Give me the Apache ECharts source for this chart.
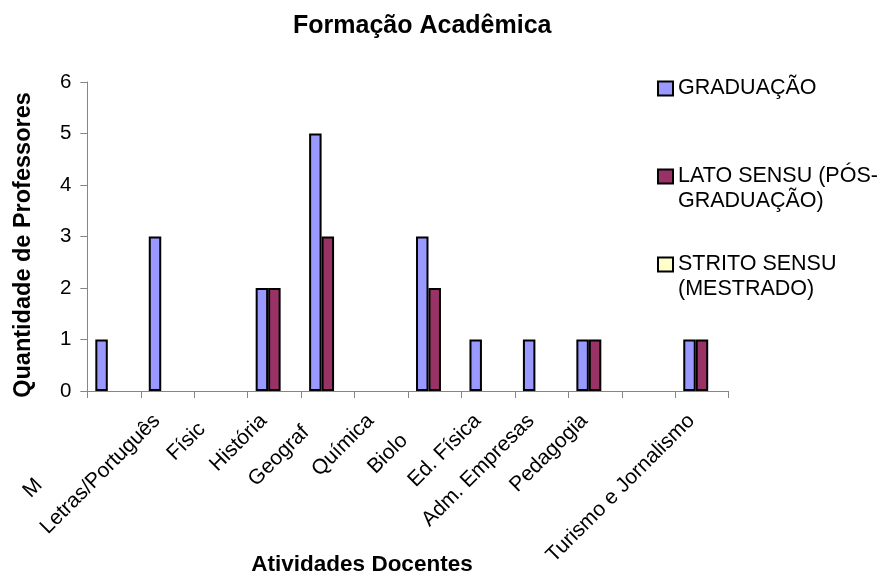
<!DOCTYPE html>
<html>
<head>
<meta charset="utf-8">
<script src="https://cdn.jsdelivr.net/npm/echarts@6/dist/echarts.min.js"></script>
<style>
  html, body { margin: 0; padding: 0; background: #fff; }
  #chart { width: 890px; height: 574px; }
</style>
</head>
<body>
<div id="chart"></div>
<script>
// Course areas (full names) and the tick labels as they appear under the axis
const categories = ['Matemática', 'Letras/Português', 'Física', 'História', 'Geografia', 'Química',
  'Biologia', 'Ed. Física', 'Adm. Empresas', 'Pedagogia', '', 'Turismo e Jornalismo'];
const tickLabels = ['M', 'Letras/Português', 'Físic', 'História', 'Geograf', 'Química',
  'Biolo', 'Ed. Física', 'Adm. Empresas', 'Pedagogia', '', 'Turismo e Jornalismo'];

// Series names and their legend text (first line sits beside the swatch)
const seriesNames = ['GRADUAÇÃO', 'LATO SENSU (PÓS-GRADUAÇÃO)', 'STRITO SENSU (MESTRADO)'];
const legendLines = [['GRADUAÇÃO'], ['LATO SENSU (PÓS-', 'GRADUAÇÃO)'], ['STRITO SENSU', '(MESTRADO)']];

// Number of teachers per area and degree
const graduacao   = [1, 3, 0, 2, 5, 0, 3, 1, 1, 1, 0, 1];
const latoSensu   = [0, 0, 0, 2, 3, 0, 2, 0, 0, 1, 0, 1];
const stritoSensu = [0, 0, 0, 0, 0, 0, 0, 0, 0, 0, 0, 0];

// Value axis range
const yMin = 0, yMax = 6, yStep = 1;

const FONT = '"Liberation Sans", Arial, Helvetica, sans-serif';
const LABEL_SIZE = 21;
const seriesColors = ['#9999FF', '#993366', '#FFFFCC'];

// Clipped tick labels keep the position of their full category text
const measureCtx = document.createElement('canvas').getContext('2d');
measureCtx.font = LABEL_SIZE + 'px ' + FONT;
function hiddenWidth(i) {
  return measureCtx.measureText(categories[i]).width - measureCtx.measureText(tickLabels[i]).width;
}
const axisData = categories.map((c, i) => ({
  value: c,
  textStyle: { padding: [0, 15 + hiddenWidth(i), 0, 0] }
}));

// Legend text is a three-line block centred on the swatch: blank line, first line, second line
function legendText(name) {
  const lines = legendLines[seriesNames.indexOf(name)];
  return ['', lines[0], lines[1] || ''].join('\n');
}

// Zero counts draw no bar
const toBar = arr => arr.map(v => (v === 0 ? '-' : v));
const seriesValues = [graduacao, latoSensu, stritoSensu];

const chart = echarts.init(document.getElementById('chart'), null, { renderer: 'canvas' });

chart.setOption({
  animation: false,
  backgroundColor: '#ffffff',
  textStyle: { fontFamily: FONT, color: '#000' },
  title: {
    text: 'Formação Acadêmica',
    left: 293,
    top: 14,
    padding: 0,
    textStyle: { fontFamily: FONT, fontSize: 25, fontWeight: 'bold', color: '#000' }
  },
  legend: {
    orient: 'vertical',
    left: 657,
    top: 51,
    padding: 0,
    itemGap: 13,
    itemWidth: 15,
    itemHeight: 14,
    icon: 'rect',
    selectedMode: false,
    data: seriesNames,
    formatter: legendText,
    textStyle: { fontFamily: FONT, fontSize: 21.5, lineHeight: 25, color: '#000' }
  },
  grid: { left: 87.3, right: 161.3, top: 82, bottom: 183, containLabel: false, outerBoundsMode: 'none' },
  xAxis: {
    type: 'category',
    data: axisData,
    name: 'Atividades Docentes',
    nameLocation: 'middle',
    nameGap: 162,
    nameMoveOverlap: false,
    nameTextStyle: { fontFamily: FONT, fontSize: 22.5, fontWeight: 'bold', color: '#000', padding: [0, 92, 0, 0] },
    axisLine: { show: true, lineStyle: { color: '#868686', width: 1 } },
    axisTick: { show: true, alignWithLabel: false, length: 7, lineStyle: { color: '#868686' } },
    axisLabel: {
      interval: 0,
      rotate: 45,
      margin: 16,
      fontFamily: FONT,
      fontSize: LABEL_SIZE,
      color: '#000',
      formatter: (value, index) => tickLabels[index]
    },
    splitLine: { show: false }
  },
  yAxis: {
    type: 'value',
    min: yMin,
    max: yMax,
    interval: yStep,
    name: 'Quantidade de Professores',
    nameLocation: 'middle',
    nameGap: 52,
    nameMoveOverlap: false,
    nameTextStyle: { fontFamily: FONT, fontSize: 23.5, fontWeight: 'bold', color: '#000', padding: [0, 17, 0, 0] },
    axisLine: { show: true, lineStyle: { color: '#868686', width: 1 } },
    axisTick: { show: true, length: 7, lineStyle: { color: '#868686' } },
    axisLabel: { margin: 16, fontFamily: FONT, fontSize: 20.5, color: '#000' },
    splitLine: { show: false }
  },
  series: seriesNames.map((name, i) => ({
    name: name,
    type: 'bar',
    data: toBar(seriesValues[i]),
    barGap: '0%',
    barCategoryGap: '30%',
    itemStyle: { color: seriesColors[i], borderColor: '#000', borderWidth: 2 }
  }))
});
</script>
</body>
</html>
